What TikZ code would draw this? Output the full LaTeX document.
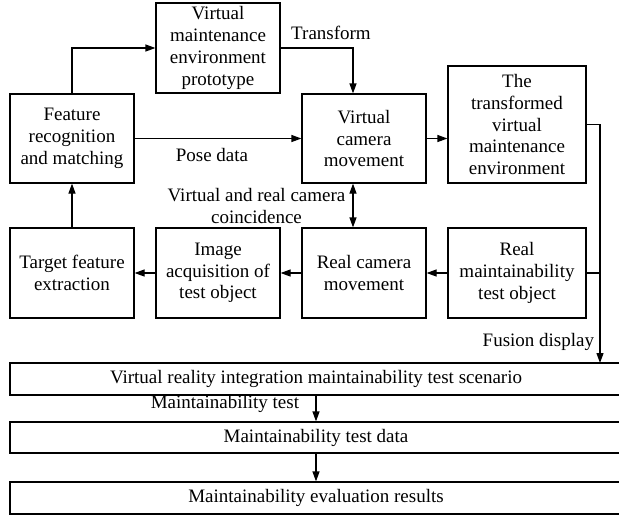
\documentclass[tikz,border=0pt]{standalone}
\usepackage{fontspec}
\setmainfont{Liberation Serif}
\usetikzlibrary{arrows.meta}

\begin{document}
\begin{tikzpicture}[x=1pt,y=1pt,>={Triangle[length=10pt,width=7pt]},line width=1.2pt,
  every node/.style={font=\fontsize{19}{21.7}\selectfont,align=center},
  block/.style={draw,inner sep=0pt,minimum width=124pt,minimum height=90pt},
  wide block/.style={draw,inner sep=0pt,minimum width=138pt},
  bar/.style={draw,inner sep=0pt,minimum width=612pt,minimum height=32pt}]
  \clip (0,0) rectangle (619,-515);

  % upper row
  \node [block] (vmep) at (218,-48) {Virtual\\maintenance\\environment\\prototype};
  \node [block, minimum height=89pt] (frm) at (72,-138.5) {Feature\\recognition\\and matching};
  \node [block, minimum height=89pt] (vcm) at (364,-138.5) {Virtual\\camera\\movement};
  \node [wide block, minimum height=117pt] (tvme) at (517,-124.5) {The\\transformed\\virtual\\maintenance\\environment};

  % lower row
  \node [block] (tfe) at (72,-273) {Target feature\\extraction};
  \node [block] (ia) at (218,-273) {Image\\acquisition of\\test object};
  \node [block] (rcm) at (364,-273) {Real camera\\movement};
  \node [wide block, minimum height=90pt] (rmto) at (517,-273) {Real\\maintainability\\test object};

  % bars
  \node [bar] (scene) at (316,-379) {Virtual reality integration maintainability test scenario};
  \node [bar, minimum height=31pt] (data) at (316,-437.5) {Maintainability test data};
  \node [bar] (result) at (316,-498) {Maintainability evaluation results};

  \coordinate (cx) at (353,0);
  \coordinate (fx) at (600,-363);

  % labels
  \node (transform) at (331,-33) {Transform};
  \node (pose) at (212,-155) {Pose data};
  \node (coinc) at (256.5,-206) {Virtual and real camera\\coincidence};
  \node [anchor=east] (fusion) at (598,-342) {Fusion display};
  \node [anchor=east] (mtest) at (303,-404) {Maintainability test};

  \draw [->] (frm.north) |- (vmep.west);
  \draw [->] (vmep.east) -| (vcm.north -| cx);
  \draw [->] (frm) -- (vcm);
  \draw [->] (vcm.east) -- (vcm.east -| tvme.west);
  \draw [<->] (vcm.south -| cx) -- (rcm.north -| cx);
  \draw [->] (tvme.east) -| (fx);
  \draw (rmto.east) -- (rmto.east -| fx);
  \draw [->] (rmto) -- (rcm);
  \draw [->] (rcm) -- (ia);
  \draw [->] (ia) -- (tfe);
  \draw [->] (tfe) -- (frm);
  \draw [->] (scene) -- (data);
  \draw [->] (data) -- (result);
\end{tikzpicture}
\end{document}
